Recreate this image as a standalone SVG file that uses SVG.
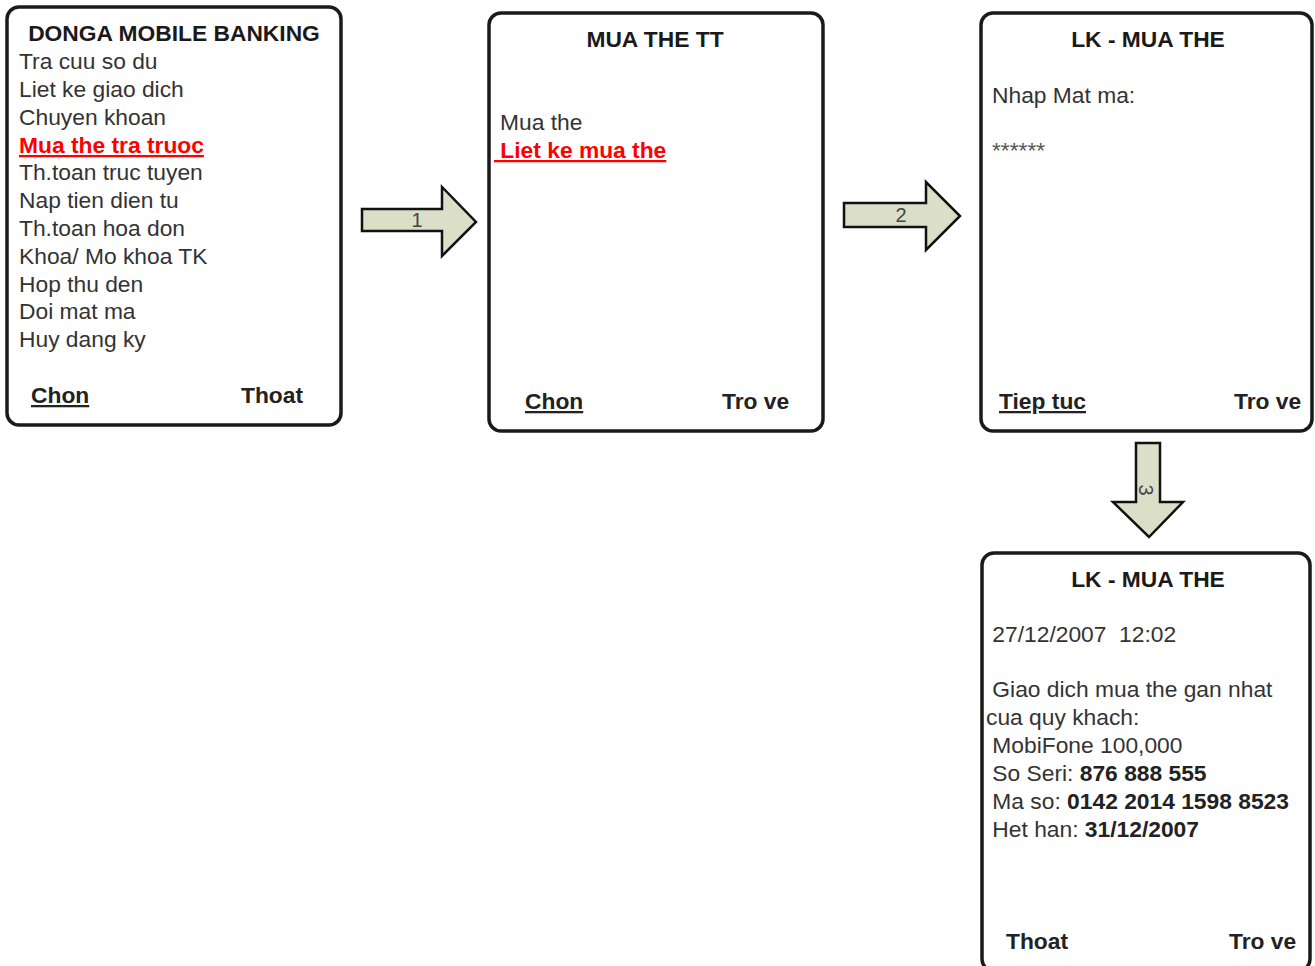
<svg xmlns="http://www.w3.org/2000/svg" width="1315" height="966" viewBox="0 0 1315 966">
<style>
.scr{fill:#fff;stroke:#1a1a1a;stroke-width:3.5}
text{font-family:"Liberation Sans",Arial,sans-serif;font-size:22.8px;fill:#333;white-space:pre}
.t{font-weight:bold;fill:#1a1a1a;text-anchor:middle}
.b{font-weight:bold;fill:#222}
.u{text-decoration:underline}
.red{fill:#ff0000;font-weight:bold;text-decoration:underline}
.arr{fill:#dcdfc8;stroke:#111;stroke-width:2.5;stroke-linejoin:miter}
.lbl{font-size:20px;fill:#444;text-anchor:middle}
</style>
<rect width="1315" height="966" fill="#fff"/>
<g id="screen1">
<rect class="scr" x="7" y="7" width="334" height="418" rx="12"/>
<text class="t" x="174" y="41">DONGA MOBILE BANKING</text>
<text x="19" y="69">Tra cuu so du</text>
<text x="19" y="97">Liet ke giao dich</text>
<text x="19" y="125">Chuyen khoan</text>
<text class="red" x="19" y="153">Mua the tra truoc</text>
<text x="19" y="180">Th.toan truc tuyen</text>
<text x="19" y="208">Nap tien dien tu</text>
<text x="19" y="236">Th.toan hoa don</text>
<text x="19" y="264">Khoa/ Mo khoa TK</text>
<text x="19" y="292">Hop thu den</text>
<text x="19" y="319">Doi mat ma</text>
<text x="19" y="347">Huy dang ky</text>
<text class="b u" x="31" y="403">Chon</text>
<text class="b" x="241" y="403">Thoat</text>
</g>
<g id="screen2">
<rect class="scr" x="489" y="13" width="334" height="418" rx="12"/>
<text class="t" x="655" y="47">MUA THE TT</text>
<text x="500" y="130">Mua the</text>
<text class="red" x="494" y="158"> Liet ke mua the</text>
<text class="b u" x="525" y="409">Chon</text>
<text class="b" x="722" y="409">Tro ve</text>
</g>
<g id="screen3">
<rect class="scr" x="981" y="13" width="331" height="418" rx="12"/>
<text class="t" x="1148" y="47">LK - MUA THE</text>
<text x="992" y="103">Nhap Mat ma:</text>
<text x="992" y="158" style="fill:#555">******</text>
<text class="b u" x="999" y="409">Tiep tuc</text>
<text class="b" x="1234" y="409">Tro ve</text>
</g>
<g id="screen4">
<rect class="scr" x="982" y="553" width="328" height="418" rx="12"/>
<text class="t" x="1148" y="587">LK - MUA THE</text>
<text x="986" y="642"> 27/12/2007  12:02</text>
<text x="986" y="697"> Giao dich mua the gan nhat</text>
<text x="986" y="725">cua quy khach:</text>
<text x="986" y="753"> MobiFone 100,000</text>
<text x="986" y="781"> So Seri: <tspan class="b">876 888 555</tspan></text>
<text x="986" y="809"> Ma so: <tspan class="b">0142 2014 1598 8523</tspan></text>
<text x="986" y="837"> Het han: <tspan class="b">31/12/2007</tspan></text>
<text class="b" x="1006" y="949">Thoat</text>
<text class="b" x="1229" y="949">Tro ve</text>
</g>
<g id="connectors">
<g id="arrow1">
<polygon class="arr" points="362,209 442,209 442,187 476,222 442,256 442,231 362,231"/>
<text class="lbl" x="417" y="227">1</text>
</g>
<g id="arrow2">
<polygon class="arr" points="844,203 926,203 926,182 960,216 926,250 926,227 844,227"/>
<text class="lbl" x="901" y="222">2</text>
</g>
<g id="arrow3">
<polygon class="arr" points="1136,443 1160,443 1160,502 1183,502 1149,537 1113,502 1136,502"/>
<text class="lbl" transform="translate(1139,490) rotate(90)">3</text>
</g>
</g>
</svg>
